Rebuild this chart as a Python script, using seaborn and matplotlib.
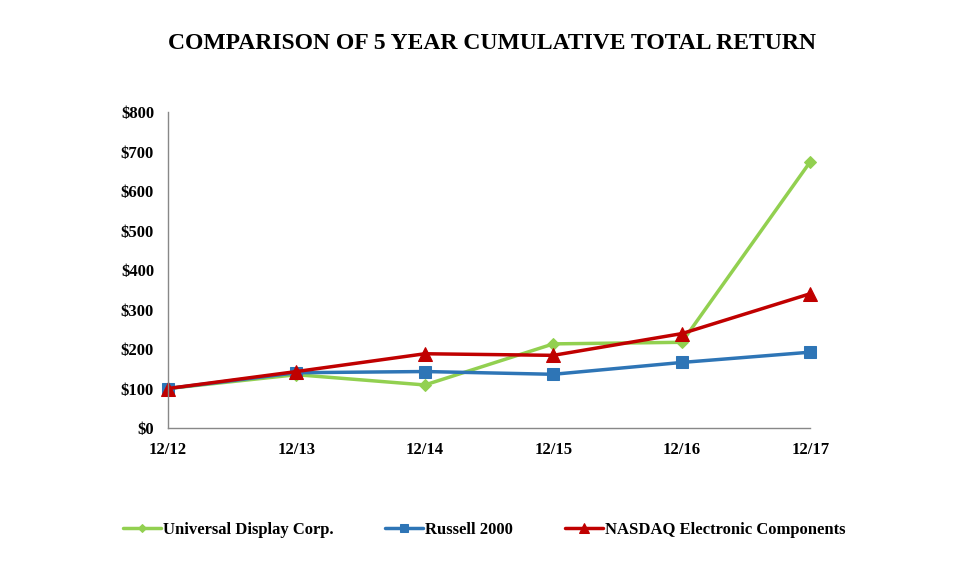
import pandas as pd
import matplotlib.pyplot as plt
import seaborn as sns

# Values
years = ['12/12', '12/13', '12/14', '12/15', '12/16', '12/17']
universal_display = [100, 135, 109, 213, 217, 674]
russell_2000 = [100, 140, 143, 136, 166, 192]
nasdaq_electronic = [100, 143, 188, 184, 239, 340]

series_names = ['Universal Display Corp.', 'Russell 2000', 'NASDAQ Electronic Components']
colors = ['#92D050', '#2E75B6', '#C00000']
markers = ['D', 's', '^']
marker_sizes = [6, 9, 10]

frames = []
for name, values in zip(series_names, [universal_display, russell_2000, nasdaq_electronic]):
    frames.append(pd.DataFrame({'pos': range(len(years)), 'value': values, 'series': name}))
df = pd.concat(frames)

sns.set_style('white')
plt.rcParams['font.family'] = ['Liberation Serif', 'DejaVu Serif']
plt.rcParams['font.weight'] = 'bold'
plt.rcParams['text.color'] = 'black'

fig = plt.figure(figsize=(9.6, 5.62), dpi=100)
ax = fig.add_axes([0.175, 0.2384, 0.669, 0.5623])

for name, color, marker, ms in zip(series_names, colors, markers, marker_sizes):
    sub = df[df['series'] == name]
    sns.lineplot(data=sub, x='pos', y='value', ax=ax, color=color, marker=marker,
                 markersize=ms, markeredgecolor=color, linewidth=2.5, label=name,
                 clip_on=False)

ax.set_xlim(0, len(years) - 1)
ax.set_ylim(0, 800)
ax.set_xticks(range(len(years)))
ax.set_xticklabels(years)
ax.set_yticks(range(0, 801, 100))
ax.set_yticklabels(['$' + str(v) for v in range(0, 801, 100)])
ax.set_xlabel('')
ax.set_ylabel('')

for side in ['top', 'right']:
    ax.spines[side].set_visible(False)
for side in ['left', 'bottom']:
    ax.spines[side].set_color('#888888')
    ax.spines[side].set_linewidth(1)
ax.tick_params(axis='both', which='both', direction='out', length=5, color='#888888',
               labelsize=12, labelcolor='black')
ax.tick_params(axis='y', pad=5)
ax.tick_params(axis='x', pad=5)
for lbl in ax.get_xticklabels() + ax.get_yticklabels():
    lbl.set_fontweight('bold')

fig.text(0.512, 0.922, 'COMPARISON OF 5 YEAR CUMULATIVE TOTAL RETURN', ha='center',
         va='center', fontsize=17, fontweight='bold', color='black')

handles, labels = ax.get_legend_handles_labels()
ax.get_legend().remove()
fig.legend(handles, labels, loc='center', bbox_to_anchor=(0.504, 0.057), ncol=3,
           frameon=False, handlelength=2.3, handletextpad=0.1, markerscale=0.7,
           columnspacing=3.1, prop={'weight': 'bold', 'size': 12})

plt.savefig('out.png', dpi=100)
